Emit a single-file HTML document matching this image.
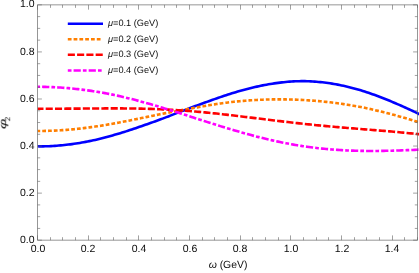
<!DOCTYPE html><html><head><meta charset="utf-8"><style>
html,body{margin:0;padding:0;background:#fff}
body{width:419px;height:273px;position:relative;overflow:hidden;font-family:"Liberation Sans",sans-serif;color:#0a0a0a}
.t{position:absolute;white-space:nowrap;line-height:1;will-change:transform;text-rendering:geometricPrecision}
.xt{font-size:10.5px;transform:translateX(-50%);top:244.1px}
.yt{font-size:10.5px;right:384.7px;transform:translateY(-50%)}
.lg{font-size:9.2px;left:107.8px;transform:translateY(-50%)}
i{font-style:italic}
</style></head><body>
<svg width="419" height="273" viewBox="0 0 419 273" style="position:absolute;left:0;top:0">
<defs><clipPath id="c"><rect x="37.50" y="4.50" width="382.50" height="236.00"/></clipPath></defs>
<g clip-path="url(#c)" fill="none" stroke-linecap="butt" stroke-linejoin="round">
<path d="M37.50,146.32 L39.42,146.35 L41.35,146.36 L43.27,146.35 L45.20,146.31 L47.12,146.26 L49.05,146.18 L50.97,146.08 L52.90,145.97 L54.82,145.84 L56.75,145.69 L58.67,145.53 L60.60,145.36 L62.52,145.18 L64.44,144.99 L66.37,144.79 L68.29,144.57 L70.22,144.34 L72.14,144.09 L74.07,143.82 L75.99,143.53 L77.92,143.23 L79.84,142.91 L81.77,142.58 L83.69,142.24 L85.62,141.89 L87.54,141.52 L89.46,141.14 L91.39,140.74 L93.31,140.33 L95.24,139.90 L97.16,139.45 L99.09,138.99 L101.01,138.51 L102.94,138.01 L104.86,137.51 L106.79,137.00 L108.71,136.48 L110.64,135.95 L112.56,135.41 L114.48,134.87 L116.41,134.31 L118.33,133.75 L120.26,133.18 L122.18,132.59 L124.11,131.99 L126.03,131.37 L127.96,130.74 L129.88,130.11 L131.81,129.46 L133.73,128.81 L135.66,128.15 L137.58,127.50 L139.51,126.84 L141.43,126.18 L143.35,125.52 L145.28,124.85 L147.20,124.17 L149.13,123.50 L151.05,122.81 L152.98,122.13 L154.90,121.43 L156.83,120.74 L158.75,120.03 L160.68,119.33 L162.60,118.62 L164.53,117.90 L166.45,117.16 L168.37,116.42 L170.30,115.66 L172.22,114.90 L174.15,114.14 L176.07,113.38 L178.00,112.62 L179.92,111.87 L181.85,111.14 L183.77,110.41 L185.70,109.69 L187.62,108.96 L189.55,108.24 L191.47,107.52 L193.39,106.81 L195.32,106.09 L197.24,105.38 L199.17,104.67 L201.09,103.96 L203.02,103.26 L204.94,102.56 L206.87,101.86 L208.79,101.17 L210.72,100.48 L212.64,99.80 L214.57,99.12 L216.49,98.45 L218.41,97.78 L220.34,97.12 L222.26,96.47 L224.19,95.83 L226.11,95.19 L228.04,94.57 L229.96,93.95 L231.89,93.35 L233.81,92.75 L235.74,92.17 L237.66,91.60 L239.59,91.04 L241.51,90.50 L243.43,89.96 L245.36,89.44 L247.28,88.93 L249.21,88.44 L251.13,87.96 L253.06,87.50 L254.98,87.04 L256.91,86.61 L258.83,86.19 L260.76,85.78 L262.68,85.39 L264.61,85.02 L266.53,84.66 L268.45,84.32 L270.38,83.99 L272.30,83.68 L274.23,83.39 L276.15,83.12 L278.08,82.86 L280.00,82.61 L281.93,82.39 L283.85,82.18 L285.78,81.98 L287.70,81.81 L289.63,81.65 L291.55,81.52 L293.47,81.40 L295.40,81.31 L297.32,81.24 L299.25,81.19 L301.17,81.16 L303.10,81.15 L305.02,81.17 L306.95,81.21 L308.87,81.28 L310.80,81.37 L312.72,81.47 L314.65,81.60 L316.57,81.75 L318.49,81.92 L320.42,82.10 L322.34,82.31 L324.27,82.53 L326.19,82.78 L328.12,83.04 L330.04,83.33 L331.97,83.63 L333.89,83.95 L335.82,84.29 L337.74,84.65 L339.67,85.03 L341.59,85.42 L343.52,85.83 L345.44,86.26 L347.36,86.71 L349.29,87.17 L351.21,87.65 L353.14,88.15 L355.06,88.67 L356.99,89.21 L358.91,89.76 L360.84,90.34 L362.76,90.94 L364.69,91.55 L366.61,92.18 L368.54,92.82 L370.46,93.48 L372.38,94.16 L374.31,94.84 L376.23,95.54 L378.16,96.25 L380.08,96.98 L382.01,97.72 L383.93,98.47 L385.86,99.24 L387.78,100.02 L389.71,100.81 L391.63,101.62 L393.56,102.43 L395.48,103.25 L397.40,104.08 L399.33,104.91 L401.25,105.76 L403.18,106.61 L405.10,107.48 L407.03,108.35 L408.95,109.23 L410.88,110.12 L412.80,111.02 L414.73,111.93 L416.65,112.85 L418.58,113.77 L420.50,114.71" stroke="#0000ff" stroke-width="2.6"/>
<path d="M37.50,130.98 L39.42,130.97 L41.35,130.95 L43.27,130.93 L45.20,130.90 L47.12,130.85 L49.05,130.80 L50.97,130.74 L52.90,130.66 L54.82,130.58 L56.75,130.49 L58.67,130.39 L60.60,130.27 L62.52,130.15 L64.44,130.02 L66.37,129.87 L68.29,129.72 L70.22,129.56 L72.14,129.38 L74.07,129.20 L75.99,129.01 L77.92,128.81 L79.84,128.60 L81.77,128.37 L83.69,128.14 L85.62,127.90 L87.54,127.66 L89.46,127.40 L91.39,127.13 L93.31,126.86 L95.24,126.58 L97.16,126.29 L99.09,125.99 L101.01,125.69 L102.94,125.38 L104.86,125.06 L106.79,124.73 L108.71,124.40 L110.64,124.06 L112.56,123.72 L114.48,123.37 L116.41,123.02 L118.33,122.66 L120.26,122.30 L122.18,121.93 L124.11,121.56 L126.03,121.18 L127.96,120.80 L129.88,120.42 L131.81,120.03 L133.73,119.65 L135.66,119.26 L137.58,118.87 L139.51,118.47 L141.43,118.08 L143.35,117.68 L145.28,117.29 L147.20,116.89 L149.13,116.49 L151.05,116.09 L152.98,115.70 L154.90,115.30 L156.83,114.90 L158.75,114.51 L160.68,114.12 L162.60,113.73 L164.53,113.35 L166.45,112.97 L168.37,112.60 L170.30,112.23 L172.22,111.87 L174.15,111.51 L176.07,111.16 L178.00,110.81 L179.92,110.46 L181.85,110.11 L183.77,109.76 L185.70,109.42 L187.62,109.08 L189.55,108.73 L191.47,108.39 L193.39,108.04 L195.32,107.70 L197.24,107.35 L199.17,107.01 L201.09,106.67 L203.02,106.33 L204.94,105.99 L206.87,105.66 L208.79,105.33 L210.72,105.01 L212.64,104.69 L214.57,104.38 L216.49,104.08 L218.41,103.78 L220.34,103.49 L222.26,103.21 L224.19,102.95 L226.11,102.69 L228.04,102.44 L229.96,102.20 L231.89,101.98 L233.81,101.77 L235.74,101.57 L237.66,101.38 L239.59,101.20 L241.51,101.02 L243.43,100.86 L245.36,100.70 L247.28,100.55 L249.21,100.41 L251.13,100.28 L253.06,100.16 L254.98,100.05 L256.91,99.94 L258.83,99.85 L260.76,99.76 L262.68,99.68 L264.61,99.61 L266.53,99.55 L268.45,99.50 L270.38,99.46 L272.30,99.42 L274.23,99.39 L276.15,99.38 L278.08,99.37 L280.00,99.37 L281.93,99.37 L283.85,99.39 L285.78,99.41 L287.70,99.45 L289.63,99.49 L291.55,99.54 L293.47,99.60 L295.40,99.66 L297.32,99.73 L299.25,99.82 L301.17,99.91 L303.10,100.01 L305.02,100.11 L306.95,100.23 L308.87,100.36 L310.80,100.49 L312.72,100.63 L314.65,100.79 L316.57,100.95 L318.49,101.12 L320.42,101.29 L322.34,101.48 L324.27,101.68 L326.19,101.88 L328.12,102.09 L330.04,102.32 L331.97,102.55 L333.89,102.79 L335.82,103.03 L337.74,103.29 L339.67,103.56 L341.59,103.83 L343.52,104.11 L345.44,104.40 L347.36,104.70 L349.29,105.01 L351.21,105.33 L353.14,105.66 L355.06,105.99 L356.99,106.33 L358.91,106.68 L360.84,107.04 L362.76,107.42 L364.69,107.82 L366.61,108.23 L368.54,108.65 L370.46,109.08 L372.38,109.52 L374.31,109.97 L376.23,110.42 L378.16,110.87 L380.08,111.33 L382.01,111.80 L383.93,112.28 L385.86,112.77 L387.78,113.26 L389.71,113.76 L391.63,114.27 L393.56,114.79 L395.48,115.32 L397.40,115.85 L399.33,116.39 L401.25,116.93 L403.18,117.49 L405.10,118.05 L407.03,118.62 L408.95,119.19 L410.88,119.77 L412.80,120.36 L414.73,120.96 L416.65,121.56 L418.58,122.16 L420.50,122.78" stroke="#ff7f00" stroke-width="2.6" stroke-dasharray="3.75 2.048" stroke-dashoffset="1.05"/>
<path d="M37.50,108.81 L39.42,108.79 L41.35,108.78 L43.27,108.77 L45.20,108.76 L47.12,108.75 L49.05,108.74 L50.97,108.73 L52.90,108.72 L54.82,108.72 L56.75,108.71 L58.67,108.70 L60.60,108.69 L62.52,108.69 L64.44,108.68 L66.37,108.67 L68.29,108.66 L70.22,108.65 L72.14,108.64 L74.07,108.62 L75.99,108.61 L77.92,108.60 L79.84,108.59 L81.77,108.57 L83.69,108.56 L85.62,108.55 L87.54,108.53 L89.46,108.52 L91.39,108.50 L93.31,108.49 L95.24,108.48 L97.16,108.47 L99.09,108.45 L101.01,108.44 L102.94,108.43 L104.86,108.42 L106.79,108.42 L108.71,108.41 L110.64,108.40 L112.56,108.40 L114.48,108.40 L116.41,108.40 L118.33,108.40 L120.26,108.41 L122.18,108.42 L124.11,108.43 L126.03,108.44 L127.96,108.46 L129.88,108.47 L131.81,108.50 L133.73,108.52 L135.66,108.55 L137.58,108.58 L139.51,108.62 L141.43,108.66 L143.35,108.70 L145.28,108.75 L147.20,108.80 L149.13,108.86 L151.05,108.92 L152.98,108.98 L154.90,109.05 L156.83,109.12 L158.75,109.20 L160.68,109.28 L162.60,109.37 L164.53,109.46 L166.45,109.55 L168.37,109.65 L170.30,109.76 L172.22,109.87 L174.15,109.98 L176.07,110.10 L178.00,110.22 L179.92,110.35 L181.85,110.48 L183.77,110.62 L185.70,110.76 L187.62,110.91 L189.55,111.06 L191.47,111.21 L193.39,111.37 L195.32,111.53 L197.24,111.70 L199.17,111.87 L201.09,112.05 L203.02,112.23 L204.94,112.41 L206.87,112.60 L208.79,112.79 L210.72,112.98 L212.64,113.18 L214.57,113.38 L216.49,113.58 L218.41,113.79 L220.34,114.00 L222.26,114.21 L224.19,114.43 L226.11,114.64 L228.04,114.86 L229.96,115.08 L231.89,115.31 L233.81,115.53 L235.74,115.76 L237.66,115.99 L239.59,116.22 L241.51,116.45 L243.43,116.69 L245.36,116.92 L247.28,117.16 L249.21,117.39 L251.13,117.63 L253.06,117.87 L254.98,118.10 L256.91,118.34 L258.83,118.58 L260.76,118.82 L262.68,119.05 L264.61,119.29 L266.53,119.53 L268.45,119.76 L270.38,120.00 L272.30,120.23 L274.23,120.47 L276.15,120.70 L278.08,120.93 L280.00,121.16 L281.93,121.39 L283.85,121.61 L285.78,121.84 L287.70,122.06 L289.63,122.28 L291.55,122.50 L293.47,122.72 L295.40,122.94 L297.32,123.15 L299.25,123.36 L301.17,123.57 L303.10,123.78 L305.02,123.98 L306.95,124.19 L308.87,124.39 L310.80,124.58 L312.72,124.78 L314.65,124.97 L316.57,125.17 L318.49,125.35 L320.42,125.54 L322.34,125.73 L324.27,125.91 L326.19,126.09 L328.12,126.27 L330.04,126.44 L331.97,126.62 L333.89,126.79 L335.82,126.96 L337.74,127.13 L339.67,127.29 L341.59,127.46 L343.52,127.62 L345.44,127.78 L347.36,127.94 L349.29,128.10 L351.21,128.26 L353.14,128.42 L355.06,128.57 L356.99,128.73 L358.91,128.88 L360.84,129.04 L362.76,129.19 L364.69,129.35 L366.61,129.50 L368.54,129.65 L370.46,129.81 L372.38,129.96 L374.31,130.12 L376.23,130.27 L378.16,130.43 L380.08,130.59 L382.01,130.75 L383.93,130.91 L385.86,131.07 L387.78,131.23 L389.71,131.40 L391.63,131.57 L393.56,131.73 L395.48,131.90 L397.40,132.08 L399.33,132.25 L401.25,132.43 L403.18,132.61 L405.10,132.80 L407.03,132.98 L408.95,133.17 L410.88,133.36 L412.80,133.56 L414.73,133.75 L416.65,133.95 L418.58,134.16 L420.50,134.36" stroke="#ff0000" stroke-width="2.6" stroke-dasharray="7.1 2.183" stroke-dashoffset="1.1"/>
<path d="M37.50,86.78 L39.42,86.79 L41.35,86.81 L43.27,86.84 L45.20,86.88 L47.12,86.93 L49.05,86.99 L50.97,87.06 L52.90,87.14 L54.82,87.23 L56.75,87.33 L58.67,87.44 L60.60,87.56 L62.52,87.70 L64.44,87.84 L66.37,87.99 L68.29,88.16 L70.22,88.34 L72.14,88.52 L74.07,88.72 L75.99,88.93 L77.92,89.14 L79.84,89.37 L81.77,89.61 L83.69,89.85 L85.62,90.10 L87.54,90.36 L89.46,90.63 L91.39,90.91 L93.31,91.20 L95.24,91.49 L97.16,91.80 L99.09,92.12 L101.01,92.45 L102.94,92.78 L104.86,93.13 L106.79,93.49 L108.71,93.86 L110.64,94.24 L112.56,94.63 L114.48,95.03 L116.41,95.45 L118.33,95.87 L120.26,96.31 L122.18,96.76 L124.11,97.21 L126.03,97.67 L127.96,98.15 L129.88,98.63 L131.81,99.11 L133.73,99.61 L135.66,100.11 L137.58,100.62 L139.51,101.13 L141.43,101.66 L143.35,102.19 L145.28,102.72 L147.20,103.27 L149.13,103.81 L151.05,104.37 L152.98,104.93 L154.90,105.49 L156.83,106.06 L158.75,106.64 L160.68,107.22 L162.60,107.80 L164.53,108.39 L166.45,108.98 L168.37,109.58 L170.30,110.17 L172.22,110.78 L174.15,111.38 L176.07,111.99 L178.00,112.60 L179.92,113.21 L181.85,113.83 L183.77,114.44 L185.70,115.06 L187.62,115.68 L189.55,116.30 L191.47,116.92 L193.39,117.54 L195.32,118.16 L197.24,118.78 L199.17,119.40 L201.09,120.02 L203.02,120.64 L204.94,121.26 L206.87,121.87 L208.79,122.49 L210.72,123.10 L212.64,123.71 L214.57,124.32 L216.49,124.93 L218.41,125.53 L220.34,126.13 L222.26,126.72 L224.19,127.32 L226.11,127.91 L228.04,128.49 L229.96,129.07 L231.89,129.65 L233.81,130.22 L235.74,130.79 L237.66,131.35 L239.59,131.91 L241.51,132.46 L243.43,133.00 L245.36,133.54 L247.28,134.07 L249.21,134.60 L251.13,135.12 L253.06,135.63 L254.98,136.14 L256.91,136.64 L258.83,137.13 L260.76,137.62 L262.68,138.09 L264.61,138.56 L266.53,139.03 L268.45,139.48 L270.38,139.93 L272.30,140.36 L274.23,140.79 L276.15,141.21 L278.08,141.63 L280.00,142.03 L281.93,142.43 L283.85,142.81 L285.78,143.19 L287.70,143.56 L289.63,143.92 L291.55,144.27 L293.47,144.61 L295.40,144.94 L297.32,145.27 L299.25,145.58 L301.17,145.88 L303.10,146.18 L305.02,146.46 L306.95,146.74 L308.87,147.01 L310.80,147.26 L312.72,147.51 L314.65,147.75 L316.57,147.98 L318.49,148.20 L320.42,148.41 L322.34,148.62 L324.27,148.81 L326.19,148.99 L328.12,149.17 L330.04,149.33 L331.97,149.49 L333.89,149.64 L335.82,149.78 L337.74,149.91 L339.67,150.03 L341.59,150.15 L343.52,150.26 L345.44,150.35 L347.36,150.44 L349.29,150.53 L351.21,150.60 L353.14,150.67 L355.06,150.73 L356.99,150.78 L358.91,150.83 L360.84,150.87 L362.76,150.90 L364.69,150.92 L366.61,150.94 L368.54,150.96 L370.46,150.96 L372.38,150.96 L374.31,150.96 L376.23,150.95 L378.16,150.93 L380.08,150.91 L382.01,150.88 L383.93,150.85 L385.86,150.82 L387.78,150.78 L389.71,150.73 L391.63,150.68 L393.56,150.63 L395.48,150.57 L397.40,150.51 L399.33,150.45 L401.25,150.39 L403.18,150.32 L405.10,150.24 L407.03,150.17 L408.95,150.09 L410.88,150.01 L412.80,149.93 L414.73,149.84 L416.65,149.76 L418.58,149.67 L420.50,149.58" stroke="#ff00ff" stroke-width="2.6" stroke-dasharray="3.7 2.07 7.22 2.09" stroke-dashoffset="1.15"/>
</g>
<path d="M37.50,240.20v-4.80M37.50,4.85v4.80M50.50,240.20v-3.00M50.50,4.85v3.00M62.50,240.20v-3.00M62.50,4.85v3.00M75.50,240.20v-3.00M75.50,4.85v3.00M88.50,240.20v-4.80M88.50,4.85v4.80M100.50,240.20v-3.00M100.50,4.85v3.00M113.50,240.20v-3.00M113.50,4.85v3.00M126.50,240.20v-3.00M126.50,4.85v3.00M138.50,240.20v-4.80M138.50,4.85v4.80M151.50,240.20v-3.00M151.50,4.85v3.00M164.50,240.20v-3.00M164.50,4.85v3.00M176.50,240.20v-3.00M176.50,4.85v3.00M189.50,240.20v-4.80M189.50,4.85v4.80M202.50,240.20v-3.00M202.50,4.85v3.00M214.50,240.20v-3.00M214.50,4.85v3.00M227.50,240.20v-3.00M227.50,4.85v3.00M240.50,240.20v-4.80M240.50,4.85v4.80M252.50,240.20v-3.00M252.50,4.85v3.00M265.50,240.20v-3.00M265.50,4.85v3.00M278.50,240.20v-3.00M278.50,4.85v3.00M290.50,240.20v-4.80M290.50,4.85v4.80M303.50,240.20v-3.00M303.50,4.85v3.00M316.50,240.20v-3.00M316.50,4.85v3.00M328.50,240.20v-3.00M328.50,4.85v3.00M341.50,240.20v-4.80M341.50,4.85v4.80M354.50,240.20v-3.00M354.50,4.85v3.00M366.50,240.20v-3.00M366.50,4.85v3.00M379.50,240.20v-3.00M379.50,4.85v3.00M392.50,240.20v-4.80M392.50,4.85v4.80M404.50,240.20v-3.00M404.50,4.85v3.00M417.50,240.20v-3.00M417.50,4.85v3.00M37.50,240.20h4.40M417.50,240.20h-4.40M37.50,228.43h2.70M417.50,228.43h-2.70M37.50,216.66h2.70M417.50,216.66h-2.70M37.50,204.90h2.70M417.50,204.90h-2.70M37.50,193.13h4.40M417.50,193.13h-4.40M37.50,181.36h2.70M417.50,181.36h-2.70M37.50,169.59h2.70M417.50,169.59h-2.70M37.50,157.83h2.70M417.50,157.83h-2.70M37.50,146.06h4.40M417.50,146.06h-4.40M37.50,134.29h2.70M417.50,134.29h-2.70M37.50,122.52h2.70M417.50,122.52h-2.70M37.50,110.76h2.70M417.50,110.76h-2.70M37.50,98.99h4.40M417.50,98.99h-4.40M37.50,87.22h2.70M417.50,87.22h-2.70M37.50,75.45h2.70M417.50,75.45h-2.70M37.50,63.69h2.70M417.50,63.69h-2.70M37.50,51.92h4.40M417.50,51.92h-4.40M37.50,40.15h2.70M417.50,40.15h-2.70M37.50,28.38h2.70M417.50,28.38h-2.70M37.50,16.62h2.70M417.50,16.62h-2.70M37.50,4.85h4.40M417.50,4.85h-4.40" stroke="#666" stroke-width="0.62" fill="none"/>
<path d="M37.50,4.85V240.20H417.50" stroke="#666" stroke-width="0.69" fill="none"/>
<path d="M37.50,4.85H417.50V240.20" stroke="#666" stroke-width="0.69" fill="none"/>
<path d="M67.80,23.72H103.00" stroke="#0000ff" stroke-width="2.5" fill="none"/>
<path d="M67.80,39.29H102.40" stroke="#ff7f00" stroke-width="2.5" fill="none" stroke-dasharray="3.75 2.048" stroke-dashoffset="0"/>
<path d="M67.80,54.86H103.00" stroke="#ff0000" stroke-width="2.5" fill="none" stroke-dasharray="7.1 2.183" stroke-dashoffset="0"/>
<path d="M67.80,70.43H103.00" stroke="#ff00ff" stroke-width="2.5" fill="none" stroke-dasharray="3.7 2.07 7.22 2.09" stroke-dashoffset="0"/>
</svg>
<div class="t xt" style="left:37.50px">0.0</div>
<div class="t xt" style="left:88.17px">0.2</div>
<div class="t xt" style="left:138.83px">0.4</div>
<div class="t xt" style="left:189.50px">0.6</div>
<div class="t xt" style="left:240.17px">0.8</div>
<div class="t xt" style="left:290.83px">1.0</div>
<div class="t xt" style="left:341.50px">1.2</div>
<div class="t xt" style="left:392.17px">1.4</div>
<div class="t yt" style="top:240.45px">0.0</div>
<div class="t yt" style="top:193.23px">0.2</div>
<div class="t yt" style="top:146.01px">0.4</div>
<div class="t yt" style="top:98.79px">0.6</div>
<div class="t yt" style="top:51.57px">0.8</div>
<div class="t yt" style="top:4.35px">1.0</div>
<div class="t lg" style="top:24.02px"><i>μ</i>=0.1 (GeV)</div>
<div class="t lg" style="top:39.59px"><i>μ</i>=0.2 (GeV)</div>
<div class="t lg" style="top:55.16px"><i>μ</i>=0.3 (GeV)</div>
<div class="t lg" style="top:70.73px"><i>μ</i>=0.4 (GeV)</div>
<div class="t" style="font-size:10.4px;left:227.7px;top:261.0px;transform:translateX(-50%)"><i>ω</i> (GeV)</div>
<div class="t" style="font-size:12px;left:2.9px;top:124.4px;transform:translate(-50%,-50%) rotate(-90deg) scale(1.32,0.8)"><i>φ</i></div>
<div class="t" style="font-size:7.6px;left:7.6px;top:119.2px;transform:translate(-50%,-50%) rotate(-90deg)">2</div>
</body></html>
